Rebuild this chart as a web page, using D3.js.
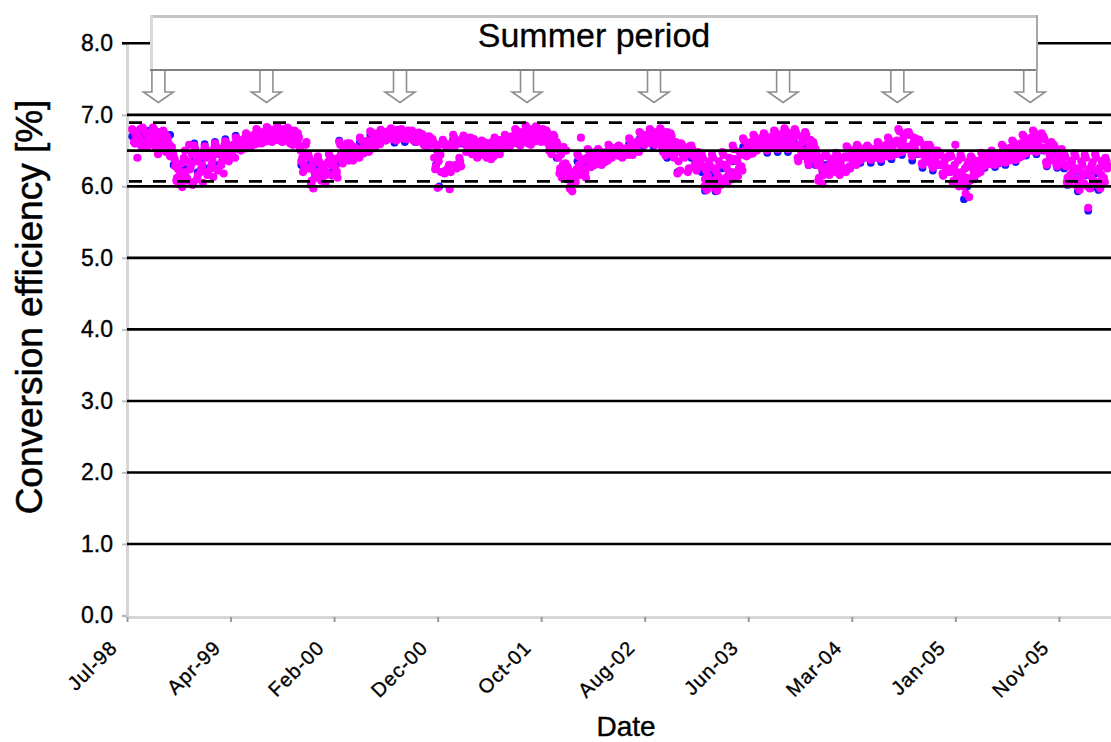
<!DOCTYPE html>
<html>
<head>
<meta charset="utf-8">
<script src="https://cdn.jsdelivr.net/npm/d3@7"></script>
<style>
  html, body { margin: 0; padding: 0; background: #fff; }
  svg { display: block; font-family: "Liberation Sans", Arial, sans-serif; }
</style>
</head>
<body>
<svg id="chart" width="1111" height="742"></svg>
<script>
// ---- data -------------------------------------------------------------
// Conversion efficiency [%] of the two monitored arrays, sampled every
// 5 days; the magenta array has two interleaved sample runs.
const pinkStartA = "1998-07-16";
const pinkStartB = "1998-07-19";
const pinkStepDays = 5;
const pinkEffA = [
  6.80,6.62,6.72,6.40,6.68,6.58, 6.82,6.60,6.75,6.56,6.70,6.65, 6.82,6.62,6.74,6.45,6.68,6.58,
  6.78,6.60,6.70,6.50,6.42,6.55, 6.42,6.28,6.12,6.03,6.20,5.99, 6.40,6.20,6.08,6.58,6.28,6.02,
  6.57,6.35,6.15,6.45,6.25,6.05, 6.56,6.40,6.20,6.48,6.30,6.13, 6.60,6.45,6.25,6.52,6.35,6.18,
  6.63,6.48,6.35,6.56,6.42,6.52, 6.68,6.55,6.62,6.50,6.64,6.58, 6.74,6.60,6.68,6.56,6.70,6.63,
  6.80,6.64,6.72,6.60,6.76,6.68, 6.83,6.66,6.75,6.62,6.79,6.70, 6.84,6.65,6.76,6.62,6.80,6.70,
  6.82,6.62,6.74,6.58,6.78,6.68, 6.74,6.55,6.35,6.20,6.45,6.62, 6.45,6.25,6.08,5.97,6.35,6.15,
  6.36,6.22,6.12,6.30,6.04,6.18, 6.45,6.30,6.16,6.38,6.22,6.12, 6.62,6.45,6.32,6.55,6.38,6.50,
  6.60,6.45,6.36,6.55,6.42,6.50, 6.68,6.52,6.46,6.62,6.56,6.48, 6.77,6.60,6.70,6.56,6.74,6.64,
  6.79,6.66,6.74,6.64,6.77,6.70, 6.81,6.68,6.76,6.64,6.79,6.72, 6.80,6.68,6.75,6.66,6.78,6.71,
  6.78,6.64,6.72,6.62,6.75,6.68, 6.73,6.58,6.66,6.55,6.70,6.62, 6.66,6.40,6.28,5.98,6.58,6.20,
  6.65,6.18,6.55,6.25,5.96,6.60, 6.72,6.56,6.25,6.62,6.35,6.66, 6.71,6.58,6.64,6.56,6.68,6.45,
  6.66,6.56,6.40,6.62,6.45,6.58, 6.62,6.55,6.42,6.60,6.38,6.57, 6.68,6.55,6.62,6.45,6.65,6.58,
  6.72,6.58,6.66,6.56,6.70,6.62, 6.80,6.60,6.72,6.57,6.76,6.66, 6.85,6.62,6.75,6.58,6.80,6.68,
  6.84,6.66,6.76,6.62,6.80,6.72, 6.78,6.60,6.68,6.45,6.72,6.55, 6.62,6.40,6.25,6.12,6.55,6.32,
  6.28,6.12,6.00,5.93,6.20,6.06, 6.45,6.30,6.68,6.22,6.38,6.12, 6.52,6.35,6.27,6.46,6.30,6.40,
  6.52,6.38,6.30,6.47,6.34,6.43, 6.58,6.44,6.40,6.52,6.47,6.55, 6.57,6.45,6.40,6.52,6.48,6.54,
  6.67,6.50,6.44,6.60,6.55,6.63, 6.76,6.60,6.68,6.58,6.72,6.64, 6.80,6.62,6.72,6.58,6.76,6.66,
  6.81,6.55,6.70,6.43,6.76,6.62, 6.74,6.55,6.40,6.62,6.18,6.48, 6.60,6.45,6.40,6.52,6.20,6.56,
  6.57,6.42,6.30,6.22,6.48,6.35, 6.45,6.28,6.10,5.95,6.35,6.05, 6.45,6.25,6.08,5.94,6.35,6.02,
  6.48,6.30,6.12,6.05,6.40,6.20, 6.57,6.38,6.20,6.14,6.48,6.28, 6.67,6.50,6.42,6.60,6.45,6.55,
  6.72,6.56,6.50,6.65,6.60,6.68, 6.74,6.58,6.50,6.66,6.55,6.70, 6.78,6.60,6.52,6.70,6.56,6.74,
  6.81,6.62,6.52,6.74,6.56,6.68, 6.80,6.55,6.35,6.70,6.45,6.62, 6.76,6.50,6.30,6.65,6.40,6.58,
  6.52,6.30,6.12,6.40,6.04,6.20, 6.45,6.28,6.16,6.36,6.22,6.40, 6.47,6.30,6.16,6.38,6.22,6.42,
  6.56,6.40,6.25,6.48,6.32,6.52, 6.58,6.42,6.36,6.50,6.46,6.54, 6.57,6.43,6.37,6.50,6.46,6.53,
  6.62,6.45,6.38,6.55,6.48,6.58, 6.68,6.50,6.42,6.60,6.46,6.64, 6.80,6.58,6.48,6.70,6.52,6.75,
  6.76,6.56,6.42,6.68,6.48,6.62, 6.65,6.45,6.30,6.55,6.35,6.50, 6.58,6.40,6.26,6.50,6.32,6.45,
  6.46,6.30,6.15,6.38,6.22,6.42, 6.45,6.25,6.08,6.58,6.15,6.00, 6.44,6.20,6.05,5.90,6.30,5.85,
  6.42,6.25,6.13,6.35,6.18,6.30, 6.47,6.34,6.28,6.42,6.38,6.45, 6.50,6.36,6.30,6.44,6.33,6.47,
  6.58,6.40,6.33,6.50,6.36,6.54, 6.64,6.46,6.37,6.56,6.40,6.60, 6.72,6.54,6.46,6.64,6.50,6.68,
  6.78,6.58,6.48,6.70,6.52,6.74, 6.70,6.50,6.30,6.60,6.40,6.55, 6.58,6.42,6.28,6.50,6.35,6.46,
  6.45,6.28,6.12,6.03,6.36,6.20, 6.46,6.25,6.08,5.95,6.35,6.15, 6.44,6.20,5.70,5.97,6.30,6.08,
  6.45,6.22,6.06,5.97,6.33,6.12, 6.40,6.25
];
const pinkEffB = [
  6.78,6.60,6.74,6.64,6.80,6.55, 6.79,6.62,6.73,6.58,6.68,6.77, 6.80,6.55,6.70,6.62,6.76,6.52,
  6.74,6.48,6.65,6.58,6.52,6.46, 6.38,6.08,6.24,6.15,6.32,6.10, 6.50,6.12,6.35,6.24,6.45,6.06,
  6.52,6.10,6.40,6.20,6.30,6.50, 6.52,6.16,6.44,6.25,6.35,6.54, 6.56,6.22,6.48,6.30,6.40,6.58,
  6.60,6.38,6.50,6.44,6.58,6.40, 6.66,6.52,6.60,6.56,6.66,6.53, 6.72,6.58,6.66,6.61,6.72,6.59,
  6.78,6.62,6.70,6.66,6.74,6.63, 6.81,6.64,6.72,6.68,6.77,6.65, 6.82,6.64,6.73,6.68,6.78,6.66,
  6.80,6.60,6.71,6.65,6.76,6.62, 6.68,6.50,6.40,6.30,6.58,6.25, 6.40,6.02,6.30,6.20,6.12,6.42,
  6.33,6.08,6.26,6.15,6.20,6.34, 6.42,6.15,6.34,6.26,6.20,6.40, 6.58,6.35,6.48,6.42,6.60,6.36,
  6.58,6.39,6.48,6.44,6.52,6.40, 6.65,6.49,6.58,6.53,6.64,6.50, 6.75,6.58,6.67,6.62,6.72,6.59,
  6.77,6.66,6.72,6.68,6.76,6.67, 6.79,6.66,6.74,6.70,6.77,6.67, 6.78,6.67,6.73,6.70,6.77,6.69,
  6.76,6.64,6.70,6.66,6.74,6.65, 6.71,6.57,6.64,6.60,6.68,6.58, 6.62,6.24,6.50,6.35,6.44,6.60,
  6.62,6.22,6.58,6.30,6.20,6.56, 6.68,6.30,6.60,6.40,6.28,6.64, 6.68,6.48,6.60,6.52,6.66,6.58,
  6.63,6.42,6.60,6.50,6.64,6.44, 6.60,6.40,6.58,6.46,6.62,6.42, 6.66,6.48,6.60,6.52,6.64,6.56,
  6.70,6.58,6.64,6.60,6.68,6.62, 6.78,6.60,6.70,6.64,6.74,6.62, 6.82,6.60,6.72,6.66,6.78,6.63,
  6.82,6.64,6.74,6.68,6.78,6.66, 6.75,6.50,6.64,6.58,6.70,6.52, 6.58,6.18,6.45,6.30,6.20,6.50,
  6.25,5.97,6.15,6.04,6.10,6.24, 6.42,6.16,6.34,6.25,6.20,6.40, 6.50,6.30,6.42,6.36,6.48,6.33,
  6.50,6.32,6.44,6.38,6.48,6.36, 6.56,6.42,6.50,6.46,6.54,6.43, 6.55,6.42,6.50,6.46,6.53,6.44,
  6.64,6.47,6.58,6.52,6.62,6.48, 6.74,6.60,6.66,6.62,6.70,6.61, 6.78,6.60,6.70,6.64,6.74,6.61,
  6.78,6.48,6.66,6.55,6.72,6.50, 6.70,6.45,6.58,6.50,6.35,6.22, 6.58,6.42,6.48,6.45,6.25,6.50,
  6.52,6.26,6.40,6.32,6.45,6.28, 6.40,6.00,6.22,6.15,6.30,6.08, 6.40,5.98,6.20,6.14,6.30,6.05,
  6.44,6.08,6.25,6.16,6.35,6.10, 6.52,6.18,6.35,6.25,6.44,6.22, 6.64,6.44,6.55,6.48,6.62,6.46,
  6.70,6.52,6.62,6.56,6.66,6.54, 6.72,6.52,6.62,6.57,6.68,6.54, 6.76,6.54,6.64,6.58,6.72,6.55,
  6.78,6.55,6.66,6.60,6.72,6.58, 6.76,6.40,6.58,6.50,6.66,6.42, 6.72,6.35,6.55,6.45,6.62,6.38,
  6.48,6.08,6.35,6.25,6.16,6.45, 6.42,6.18,6.32,6.25,6.38,6.20, 6.44,6.19,6.34,6.26,6.40,6.20,
  6.54,6.28,6.44,6.36,6.50,6.30, 6.56,6.38,6.48,6.42,6.52,6.40, 6.55,6.39,6.48,6.43,6.52,6.40,
  6.60,6.40,6.52,6.45,6.56,6.42, 6.65,6.44,6.56,6.48,6.62,6.46, 6.77,6.50,6.64,6.56,6.72,6.54,
  6.72,6.45,6.60,6.52,6.66,6.46, 6.62,6.32,6.48,6.40,6.58,6.34, 6.55,6.28,6.42,6.36,6.50,6.30,
  6.44,6.18,6.34,6.26,6.40,6.20, 6.42,6.04,6.30,6.20,6.36,6.10, 6.40,6.00,6.25,6.12,6.35,6.08,
  6.40,6.16,6.30,6.22,6.36,6.20, 6.45,6.30,6.38,6.33,6.42,6.31, 6.48,6.32,6.41,6.36,6.46,6.34,
  6.56,6.35,6.46,6.40,6.52,6.37, 6.62,6.40,6.52,6.45,6.58,6.42, 6.70,6.48,6.60,6.53,6.66,6.50,
  6.76,6.50,6.64,6.56,6.72,6.54, 6.66,6.34,6.50,6.45,6.62,6.36, 6.55,6.30,6.44,6.38,6.52,6.32,
  6.42,6.06,6.28,6.16,6.34,6.10, 6.42,6.00,6.22,6.12,6.30,6.04, 6.40,6.00,6.24,6.14,6.34,6.04,
  6.40,6.02,6.26,6.16,6.36,6.06, 6.35,6.28
];

const blueStart = "1998-07-16";
const blueStepDays = 10;
const blueEff = [
  6.70,6.60,6.75, 6.72,6.62,6.78, 6.70,6.60,6.76, 6.65,6.55,6.72, 6.30,6.10,6.20, 6.25,6.10,6.35,
  6.60,6.20,6.40, 6.59,6.25,6.40, 6.62,6.30,6.45, 6.66,6.40,6.50, 6.71,6.56,6.62, 6.70,6.60,6.65,
  6.75,6.65,6.70, 6.78,6.66,6.72, 6.78,6.66,6.72, 6.76,6.62,6.70, 6.60,6.30,6.45, 6.30,6.05,6.15,
  6.25,6.10,6.20, 6.35,6.20,6.30, 6.64,6.35,6.50, 6.58,6.42,6.50, 6.62,6.50,6.56, 6.72,6.60,6.66,
  6.74,6.66,6.70, 6.74,6.61,6.70, 6.74,6.62,6.70, 6.70,6.62,6.66, 6.65,6.58,6.62, 6.60,6.30,6.00,
  6.60,6.22,6.30, 6.66,6.30,6.60, 6.66,6.58,6.62, 6.62,6.58,6.60, 6.60,6.56,6.58, 6.62,6.57,6.60,
  6.66,6.60,6.62, 6.72,6.60,6.66, 6.75,6.60,6.70, 6.78,6.66,6.72, 6.70,6.55,6.62, 6.40,6.20,6.30,
  6.10,5.98,6.05, 6.35,6.25,6.30, 6.40,6.30,6.35, 6.42,6.33,6.38, 6.50,6.44,6.47, 6.50,6.44,6.48,
  6.60,6.50,6.55, 6.66,6.56,6.62, 6.70,6.56,6.62, 6.72,6.60,6.40, 6.55,6.45,6.20, 6.50,6.42,6.45,
  6.40,6.30,6.35, 6.20,5.94,6.05, 6.18,5.93,6.05, 6.25,6.08,6.15, 6.35,6.18,6.25, 6.55,6.44,6.50,
  6.62,6.52,6.58, 6.64,6.47,6.56, 6.68,6.48,6.58, 6.70,6.48,6.58, 6.60,6.40,6.50, 6.55,6.30,6.45,
  6.30,6.10,6.20, 6.30,6.20,6.25, 6.32,6.18,6.25, 6.42,6.25,6.35, 6.45,6.33,6.40, 6.46,6.33,6.40,
  6.50,6.34,6.42, 6.55,6.38,6.45, 6.62,6.44,6.52, 6.55,6.36,6.45, 6.45,6.26,6.35, 6.40,6.22,6.30,
  6.30,6.15,6.22, 6.20,6.05,6.12, 6.10,5.82,6.00, 6.28,6.10,6.20, 6.36,6.26,6.32, 6.38,6.27,6.32,
  6.45,6.30,6.38, 6.50,6.34,6.42, 6.58,6.43,6.50, 6.62,6.45,6.55, 6.50,6.28,6.40, 6.45,6.26,6.35,
  6.25,6.02,6.15, 6.20,5.93,6.05, 6.15,5.66,5.98, 6.18,5.95,6.05, 6.30
];

// value axis
const yTicks = [0, 1, 2, 3, 4, 5, 6, 7, 8];
const refSolid = [6.5];
const refDashed = [6.89, 6.07];

// date axis (labels every 300 days)
const xTickDates = ["1998-07-01", "1999-04-27", "2000-02-21", "2000-12-17", "2001-10-13",
                    "2002-08-09", "2003-06-05", "2004-03-31", "2005-01-25", "2005-11-21"];
const xTickLabels = ["Jul-98", "Apr-99", "Feb-00", "Dec-00", "Oct-01",
                     "Aug-02", "Jun-03", "Mar-04", "Jan-05", "Nov-05"];
const xDomain = ["1998-07-01", "2006-04-21"];

// summer markers
const summerLabel = "Summer period";
const summerDates = ["1998-09-30", "1999-08-09", "2000-08-30", "2001-09-02",
                     "2002-09-05", "2003-09-14", "2004-08-10", "2005-08-30"];

// ---- scales -------------------------------------------------------------
const parse = d3.utcParse("%Y-%m-%d");
const x = d3.scaleUtc().domain(xDomain.map(parse)).range([127, 1111]);
const y = d3.scaleLinear().domain([0, 8]).range([615.5, 43.3]);

const toPoints = (vals, startStr, step) => {
  const s = parse(startStr);
  return vals.map((v, i) => ({ date: d3.utcDay.offset(s, i * step), v }));
};
const pinkPts = toPoints(pinkEffA, pinkStartA, pinkStepDays)
  .concat(toPoints(pinkEffB, pinkStartB, pinkStepDays));
const bluePts = toPoints(blueEff, blueStart, blueStepDays);

const svg = d3.select("#chart");
const plotLeft = 127, plotRight = 1111;
const textFont = "Liberation Sans, Arial, sans-serif";

// ---- axes ---------------------------------------------------------------
const yAxis = d3.axisLeft(y).tickValues(yTicks).tickFormat(d3.format(".1f"))
  .tickSize(5).tickPadding(9);
const gy = svg.append("g").attr("transform", `translate(${plotLeft},0)`).call(yAxis);
gy.select(".domain").attr("stroke", "#d6d6d6").attr("stroke-width", 3);
gy.selectAll(".tick line").attr("stroke", "#bdbdbd").attr("stroke-width", 2);
gy.selectAll(".tick text").attr("font-size", 23).attr("fill", "#000")
  .attr("stroke", "#000").attr("stroke-width", 0.35)
  .attr("font-family", textFont);

const xAxis = d3.axisBottom(x).tickValues(xTickDates.map(parse))
  .tickFormat((d, i) => xTickLabels[i]).tickSize(5).tickSizeOuter(0);
const gx = svg.append("g").attr("transform", `translate(0,${y(0) + 1.5})`).call(xAxis);
gx.select(".domain").attr("stroke", "#d6d6d6").attr("stroke-width", 3);
gx.selectAll(".tick line").attr("stroke", "#9a9a9a").attr("stroke-width", 2);
gx.selectAll(".tick text")
  .attr("font-size", 20).attr("fill", "#000")
  .attr("stroke", "#000").attr("stroke-width", 0.35)
  .attr("font-family", textFont)
  .attr("letter-spacing", 1)
  .attr("text-anchor", "end")
  .attr("x", 0).attr("y", 0).attr("dy", 0)
  .attr("transform", "translate(-9,32) rotate(-45)");

// ---- data points --------------------------------------------------------
svg.append("g").selectAll("circle").data(bluePts).join("circle")
  .attr("cx", d => x(d.date)).attr("cy", d => y(d.v)).attr("r", 3.9)
  .attr("fill", "#1515ff");
svg.append("g").selectAll("circle").data(pinkPts).join("circle")
  .attr("cx", d => x(d.date)).attr("cy", d => y(d.v)).attr("r", 4.1)
  .attr("fill", "#ff00ff");

// ---- horizontal lines ---------------------------------------------------
svg.append("g").selectAll("line").data(yTicks.filter(v => v > 0).concat(refSolid)).join("line")
  .attr("x1", d => d === 8 ? plotLeft - 5 : plotLeft).attr("x2", plotRight)
  .attr("y1", d => y(d)).attr("y2", d => y(d))
  .attr("stroke", "#000").attr("stroke-width", 2.6);
svg.append("g").selectAll("line").data(refDashed).join("line")
  .attr("x1", plotLeft + 2).attr("x2", plotRight)
  .attr("y1", d => y(d)).attr("y2", d => y(d))
  .attr("stroke", "#000").attr("stroke-width", 2.8)
  .attr("stroke-dasharray", "13,11");

// ---- summer period banner -------------------------------------------------
const box = { x0: 150, x1: 1038, y0: 15, y1: 71 };
const banner = svg.append("g");
banner.append("rect").attr("x", box.x0).attr("y", box.y0)
  .attr("width", box.x1 - box.x0).attr("height", box.y1 - box.y0).attr("fill", "#fff");
banner.append("line").attr("x1", box.x0).attr("x2", box.x1).attr("y1", box.y0 + 1.5).attr("y2", box.y0 + 1.5)
  .attr("stroke", "#c4c4c4").attr("stroke-width", 3);
banner.append("line").attr("x1", box.x0 + 1.5).attr("x2", box.x0 + 1.5).attr("y1", box.y0).attr("y2", box.y1)
  .attr("stroke", "#d9d9d9").attr("stroke-width", 3);
banner.append("line").attr("x1", box.x0).attr("x2", box.x1).attr("y1", box.y1 - 1).attr("y2", box.y1 - 1)
  .attr("stroke", "#808080").attr("stroke-width", 2.2);
banner.append("line").attr("x1", box.x1 - 1).attr("x2", box.x1 - 1).attr("y1", box.y0).attr("y2", box.y1)
  .attr("stroke", "#a8a8a8").attr("stroke-width", 2);
banner.append("text").attr("x", (box.x0 + box.x1) / 2).attr("y", 47)
  .attr("text-anchor", "middle").attr("font-size", 34).attr("fill", "#000")
  .attr("stroke", "#000").attr("stroke-width", 0.3)
  .text(summerLabel);

// hollow arrows pointing to each summer
const arrowPath = cx => {
  const sw = 6.5, hw = 15, yNeck = 92, yTip = 102.5, yTop = box.y1;
  return `M${cx - sw},${yTop} L${cx - sw},${yNeck} L${cx - hw},${yNeck} L${cx},${yTip} ` +
         `L${cx + hw},${yNeck} L${cx + sw},${yNeck} L${cx + sw},${yTop}`;
};
banner.append("g").selectAll("path").data(summerDates.map(parse)).join("path")
  .attr("d", d => arrowPath(x(d)))
  .attr("fill", "#fff").attr("stroke", "#8e8e8e").attr("stroke-width", 1.6)
  .attr("stroke-linejoin", "miter");

// ---- axis titles ----------------------------------------------------------
svg.append("text")
  .attr("transform", "translate(42,307) rotate(-90)")
  .attr("text-anchor", "middle").attr("font-size", 37).attr("fill", "#000")
  .attr("stroke", "#000").attr("stroke-width", 0.5)
  .text("Conversion efficiency [%]");
svg.append("text")
  .attr("x", 626).attr("y", 736)
  .attr("text-anchor", "middle").attr("font-size", 28).attr("fill", "#000")
  .attr("stroke", "#000").attr("stroke-width", 0.4)
  .text("Date");
</script>
</body>
</html>
